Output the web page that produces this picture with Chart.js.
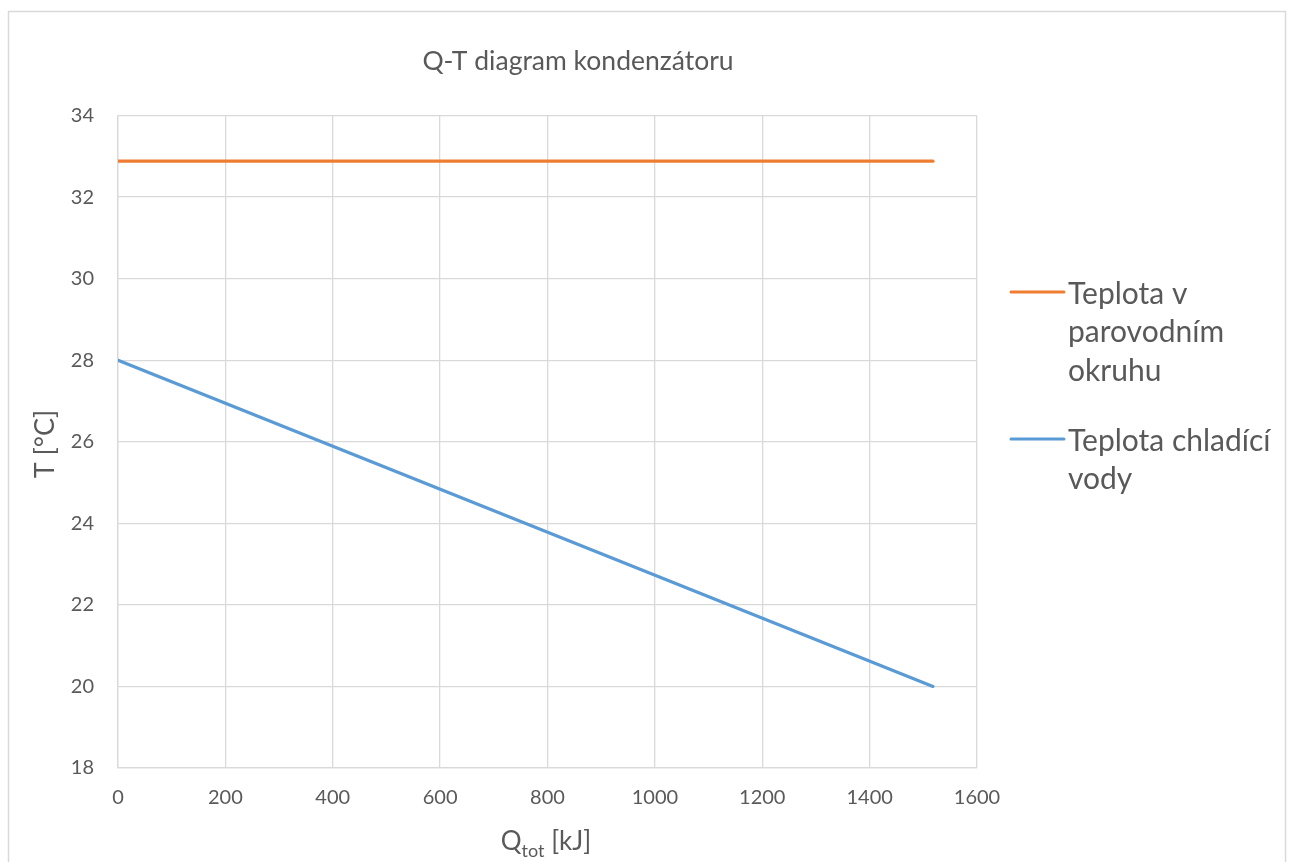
<!DOCTYPE html>
<html>
<head>
<meta charset="utf-8">
<script src="https://cdn.jsdelivr.net/npm/chart.js@4.4.1/dist/chart.umd.min.js"></script>
<style>
  html, body { margin: 0; padding: 0; background: #ffffff; }
  #wrap { position: relative; width: 1293px; height: 862px; }
  canvas { display: block; }
</style>
</head>
<body>
<div id="wrap"><canvas id="c" width="1293" height="862"></canvas></div>
<script>
// Heat transferred in the condenser [kJ]
const qValues = [0, 1518];
// Steam-circuit (condensing) temperature [°C]
const steamTemps = [32.88, 32.88];
// Cooling-water temperature [°C]
const waterTemps = [28, 20];

const seriesNames = [
  ['Teplota v', 'parovodním', 'okruhu'],
  ['Teplota chladící', 'vody']
];
const seriesColors = ['#ED7D31', '#5B9BD5'];

const chartTitle = 'Q-T diagram kondenzátoru';
const yTitle = 'T [°C]';
const xTitleMain = 'Q';
const xTitleSub = 'tot';
const xTitleUnit = ' [kJ]';

const FONT = 'Lato, "Open Sans", sans-serif';
const TEXT = '#595959';
const GRID = '#d9d9d9';

function toPoints(xs, ys) {
  return xs.map((x, i) => ({ x: x, y: ys[i] }));
}

// Frame, titles and wrapped legend drawn on the canvas
const decorations = {
  id: 'decorations',
  beforeDraw(chart) {
    const ctx = chart.ctx;
    ctx.save();
    ctx.fillStyle = '#ffffff';
    ctx.fillRect(0, 0, chart.width, chart.height);
    ctx.strokeStyle = GRID;
    ctx.lineWidth = 1.5;
    ctx.strokeRect(8.5, 11.5, 1277, 870);
    ctx.restore();
  },
  afterDraw(chart) {
    const ctx = chart.ctx;
    ctx.save();
    ctx.fillStyle = TEXT;
    ctx.textBaseline = 'middle';

    // chart title
    ctx.font = '26.5px ' + FONT;
    ctx.textAlign = 'center';
    ctx.fillText(chartTitle, 578, 61);

    // y axis title
    ctx.save();
    ctx.translate(45, 444);
    ctx.rotate(-Math.PI / 2);
    ctx.font = '27px ' + FONT;
    ctx.fillText(yTitle, 0, 0);
    ctx.restore();

    // x axis title with subscript
    ctx.textAlign = 'left';
    ctx.font = '26px ' + FONT;
    const wMain = ctx.measureText(xTitleMain).width;
    ctx.font = '18px ' + FONT;
    const wSub = ctx.measureText(xTitleSub).width;
    ctx.font = '26px ' + FONT;
    const wUnit = ctx.measureText(xTitleUnit).width;
    const total = wMain + wSub + wUnit;
    let x = 546 - total / 2;
    const y = 842;
    ctx.fillText(xTitleMain, x, y);
    x += wMain;
    ctx.font = '18px ' + FONT;
    ctx.fillText(xTitleSub, x, y + 9);
    x += wSub;
    ctx.font = '26px ' + FONT;
    ctx.fillText(xTitleUnit, x, y);

    // legend
    const legendTops = [292, 439];
    ctx.font = '30px ' + FONT;
    chart.data.datasets.forEach((ds, i) => {
      const ly = legendTops[i];
      ctx.strokeStyle = ds.borderColor;
      ctx.lineWidth = 3;
      ctx.lineCap = 'round';
      ctx.beginPath();
      ctx.moveTo(1011, ly);
      ctx.lineTo(1064, ly);
      ctx.stroke();
      seriesNames[i].forEach((line, k) => {
        ctx.fillText(line, 1068, ly + 2 + k * 38.5);
      });
    });
    ctx.restore();
  }
};

new Chart(document.getElementById('c'), {
  type: 'scatter',
  data: {
    datasets: [
      {
        label: seriesNames[0].join(' '),
        data: toPoints(qValues, steamTemps),
        showLine: true,
        borderColor: seriesColors[0],
        backgroundColor: seriesColors[0],
        borderWidth: 3.2,
        pointRadius: 0,
        borderCapStyle: 'round'
      },
      {
        label: seriesNames[1].join(' '),
        data: toPoints(qValues, waterTemps),
        showLine: true,
        borderColor: seriesColors[1],
        backgroundColor: seriesColors[1],
        borderWidth: 3.2,
        pointRadius: 0,
        borderCapStyle: 'round'
      }
    ]
  },
  options: {
    responsive: false,
    animation: false,
    layout: { padding: { left: 0, top: 115.5, right: 316, bottom: 0 } },
    plugins: {
      legend: { display: false },
      title: { display: false },
      tooltip: { enabled: false }
    },
    scales: {
      x: {
        type: 'linear',
        min: 0,
        max: 1600,
        ticks: {
          stepSize: 200, color: TEXT, font: { family: FONT, size: 20 }, padding: 18, maxRotation: 0,
          callback: (v) => String(v)
        },
        grid: { color: GRID, lineWidth: 1.3, drawTicks: false },
        border: { color: GRID, width: 1.3 },
        afterFit(scale) { scale.height = 94; }
      },
      y: {
        type: 'linear',
        min: 18,
        max: 34,
        ticks: {
          stepSize: 2, color: TEXT, font: { family: FONT, size: 20 }, padding: 24,
          callback: (v) => String(v)
        },
        grid: { color: GRID, lineWidth: 1.3, drawTicks: false },
        border: { color: GRID, width: 1.3 },
        afterFit(scale) { scale.width = 118; }
      }
    }
  },
  plugins: [decorations]
});
</script>
</body>
</html>
